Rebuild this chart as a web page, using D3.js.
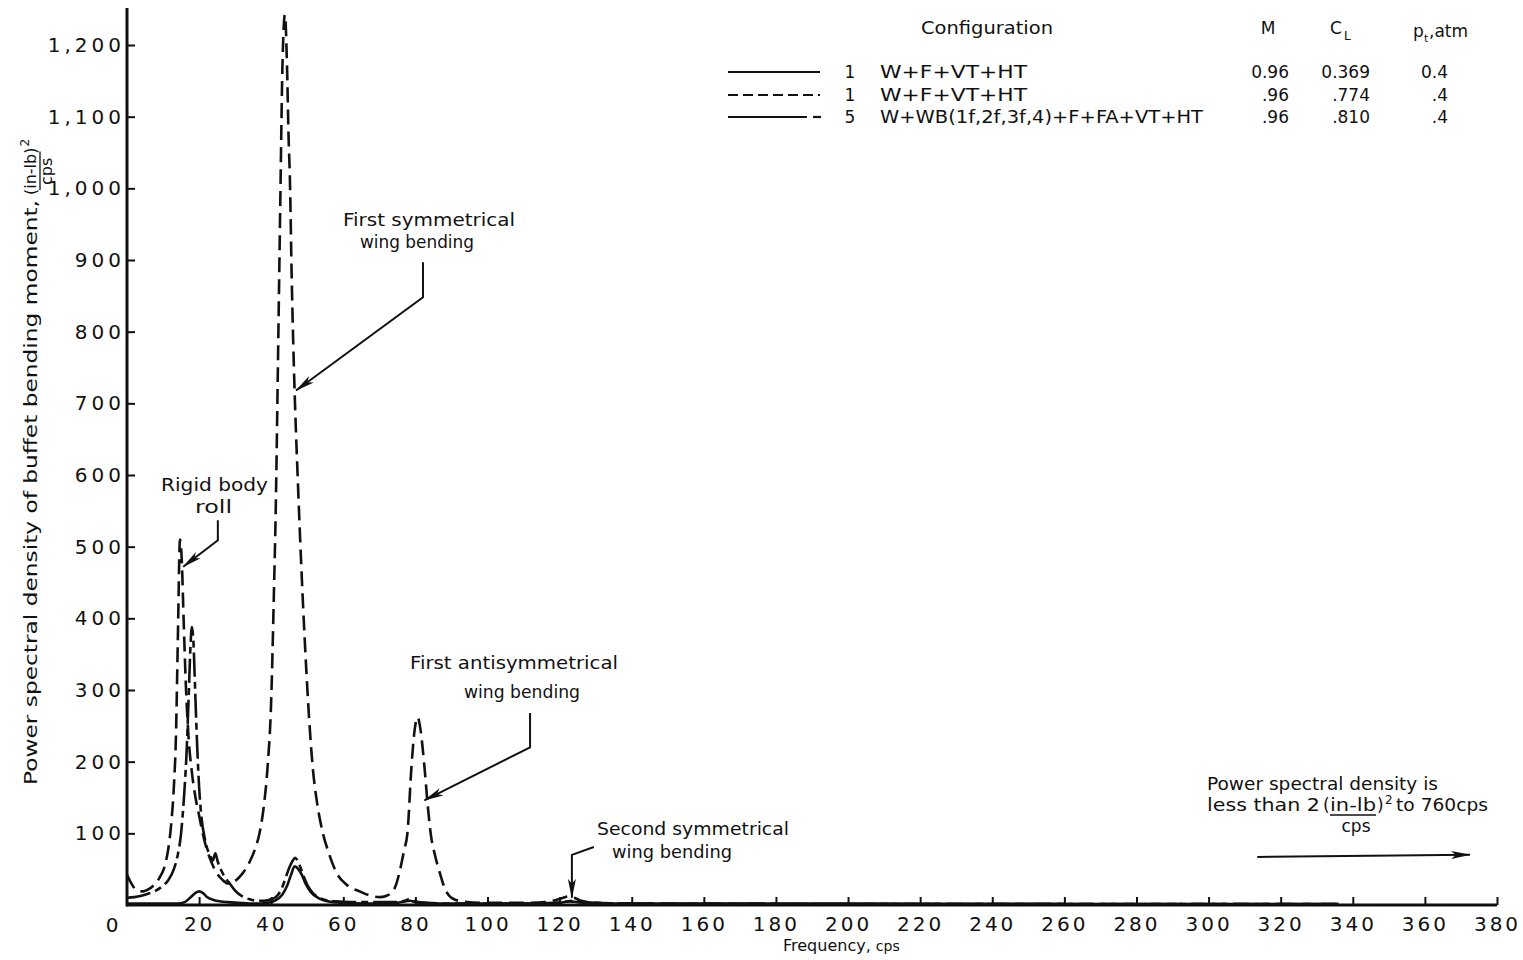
<!DOCTYPE html>
<html>
<head>
<meta charset="utf-8">
<script src="https://cdn.jsdelivr.net/npm/d3@7"></script>
<style>
  body { margin: 0; background: #fff; }
  svg text { font-family: "DejaVu Sans", "Liberation Sans", sans-serif; fill: #111; }
</style>
</head>
<body>
<svg id="chart" width="1523" height="960"></svg>
<script>
// ---- Axis ticks ----
const xTicks = [20, 40, 60, 80, 100, 120, 140, 160, 180, 200, 220, 240, 260, 280, 300, 320, 340, 360, 380];
const yTicks = [100, 200, 300, 400, 500, 600, 700, 800, 900, 1000, 1100, 1200];
const yTickLabels = ["100", "200", "300", "400", "500", "600", "700", "800", "900", "1,000", "1,100", "1,200"];

// ---- Series 1: config 1, M 0.96, CL 0.369 (solid) ----
const freq1 = [0, 5, 10, 14, 16, 17.5, 19, 20, 21, 22, 24, 26, 28, 31, 34, 37, 39, 41, 43, 44.5,
  45.5, 46.5, 47.5, 48.5, 49.5, 51, 53, 56, 60, 66, 72, 75, 77, 78.5, 80, 82, 86, 95, 110, 117,
  120, 122.5, 125, 128, 135, 160, 200, 260, 300, 336];
const psd1 = [2, 2, 2, 2, 4, 10, 17, 19, 17, 12, 7, 5, 4, 3, 2, 2, 3, 6, 14, 28,
  42, 54, 50, 42, 30, 18, 10, 5, 3, 2, 2, 3, 5, 6, 4, 3, 2, 2, 2, 2,
  3, 5, 4, 3, 2, 2, 2, 1.5, 1.5, 1.5];

// ---- Series 2: config 1, M .96, CL .774 (dashed) ----
const freq2 = [0, 1, 2, 3, 4.5, 6, 7.5, 9, 10.5, 11.5, 12.3, 13, 13.6, 14.1, 14.7, 15.2, 15.7, 16.3, 17, 18,
  19, 20, 21, 22, 23, 24, 25, 26.5, 28, 29.5, 31, 32.5, 34, 35.5, 36.8, 38, 39, 40, 40.7, 41.3,
  41.8, 42.2, 42.6, 43.1, 43.8, 44.4, 44.8, 45.2, 45.7, 46.4, 47.4, 48.3, 49.3, 50.2, 51.5, 52.8, 54.3, 56, 58, 61,
  64.5, 67.5, 70, 72, 74, 75.6, 76.8, 77.8, 78.9, 79.8, 80.6, 81.4, 82.5, 83.4, 84.2, 85.4, 86.7, 88, 90, 93,
  100, 110, 116, 119, 121, 122.5, 124, 126, 130, 140, 180, 240, 300, 336];
const psd2 = [42, 32, 24, 20, 19, 22, 28, 38, 55, 80, 115, 165, 240, 370, 510, 480, 400, 310, 240, 185,
  150, 125, 100, 80, 65, 53, 44, 35, 30, 32, 38, 47, 60, 78, 101, 140, 193, 286, 425, 564,
  732, 871, 1010, 1167, 1242, 1167, 1075, 1010, 871, 732, 590, 478, 370, 286, 193, 140, 101, 72, 46, 28,
  19, 13, 11, 13, 21, 46, 75, 101, 193, 245, 262, 245, 193, 140, 101, 70, 46, 25, 10, 5,
  3, 3, 4, 7, 10, 12, 10, 6, 3, 2, 1.5, 1.5, 1.5, 1.5];

// ---- Series 3: config 5, M .96, CL .810 (long and short dash) ----
const freq3 = [0, 2, 4, 6, 8, 10, 11.5, 13, 14, 15, 15.8, 16.5, 17.1, 17.6, 18, 18.4, 18.9, 19.4, 20, 20.7,
  21.5, 22.3, 23, 23.8, 24.5, 25.2, 26, 27, 28.5, 30, 32, 34, 36, 38, 40, 41.5, 43, 44, 45, 46,
  46.6, 47.2, 48, 49, 50, 51.5, 53, 55, 58, 62, 68, 74, 77, 78.5, 80, 83, 90, 100, 112, 118,
  121, 123.5, 126, 130, 140, 180, 240, 300, 336];
const psd3 = [10, 11, 13, 16, 20, 27, 35, 50, 68, 100, 150, 210, 290, 360, 388, 370, 300, 230, 165, 120,
  95, 78, 70, 62, 72, 60, 50, 40, 30, 20, 12, 8, 6, 6, 8, 12, 24, 38, 52, 62,
  66, 63, 54, 40, 28, 17, 11, 7, 5, 4, 4, 4, 6, 8, 5, 3, 2, 2, 2, 3,
  4, 6, 4, 3, 2, 1.5, 1.5, 1.5, 1.5];

// ---- Legend table ----
const legendNumbers = ["1", "1", "5"];
const legendConfigs = ["W+F+VT+HT", "W+F+VT+HT", "W+WB(1f,2f,3f,4)+F+FA+VT+HT"];
const legendM = ["0.96", ".96", ".96"];
const legendCL = ["0.369", ".774", ".810"];
const legendPt = ["0.4", ".4", ".4"];

// ---- Mode annotations: label lines and leader path in data units ----
const annoRigid = { lines: ["Rigid body", "roll"], path: [[25.2, 537], [25.2, 509], [15.6, 472]] };
const annoFirstSym = { lines: ["First symmetrical", "wing bending"], path: [[82.1, 897], [82.1, 848], [46.9, 718]] };
const annoFirstAnti = { lines: ["First antisymmetrical", "wing bending"], path: [[111.8, 268], [111.8, 220], [82.5, 146]] };
const annoSecondSym = { lines: ["Second symmetrical", "wing bending"], path: [[129.5, 81], [123.4, 70], [123.4, 10]] };
const arrowSpan = [[313.5, 67], [372.5, 70]];

const svg = d3.select("#chart");
const margin = { left: 127, top: 8, right: 1497, bottom: 905 };

const x = d3.scaleLinear().domain([0, 380]).range([margin.left, margin.right]);
const y = d3.scaleLinear().domain([0, 1200]).range([margin.bottom, 45]);

const defs = svg.append("defs");
defs.append("marker")
  .attr("id", "head")
  .attr("viewBox", "0 0 20 10")
  .attr("refX", 19).attr("refY", 5)
  .attr("markerWidth", 20).attr("markerHeight", 10)
  .attr("markerUnits", "userSpaceOnUse")
  .attr("orient", "auto")
  .append("path")
  .attr("d", "M0,1 L20,5 L0,9 L5,5 Z")
  .attr("fill", "#111");

// ---- Axes ----
const xAxis = d3.axisBottom(x).tickValues(xTicks).tickSizeInner(-8).tickSizeOuter(0).tickPadding(12);
const gx = svg.append("g").attr("transform", `translate(0,${margin.bottom})`).call(xAxis);
gx.select(".domain").remove();
gx.selectAll(".tick line").attr("stroke", "#111").attr("stroke-width", 2);
gx.selectAll(".tick text")
  .attr("font-size", 20).attr("letter-spacing", 3).attr("fill", "#111")
  .attr("font-family", "DejaVu Sans");

const yAxis = d3.axisLeft(y).tickValues(yTicks).tickFormat((d, i) => yTickLabels[i])
  .tickSizeInner(-8).tickSizeOuter(0).tickPadding(2);
const gy = svg.append("g").attr("transform", `translate(${margin.left},0)`).call(yAxis);
gy.select(".domain").remove();
gy.selectAll(".tick line").attr("stroke", "#111").attr("stroke-width", 2);
gy.selectAll(".tick text")
  .attr("font-size", 20).attr("letter-spacing", 4).attr("fill", "#111")
  .attr("font-family", "DejaVu Sans");

// origin label
svg.append("text").attr("x", 112).attr("y", 932).attr("text-anchor", "middle")
  .attr("font-size", 20).text("0");

// axis lines
svg.append("line").attr("x1", margin.left).attr("x2", margin.left)
  .attr("y1", margin.top).attr("y2", margin.bottom + 1.5)
  .attr("stroke", "#111").attr("stroke-width", 3);
svg.append("line").attr("x1", margin.left).attr("x2", margin.right)
  .attr("y1", margin.bottom).attr("y2", margin.bottom)
  .attr("stroke", "#111").attr("stroke-width", 3);

// axis titles
const xTitle = svg.append("text").attr("x", 783).attr("y", 951).attr("font-size", 16);
xTitle.append("tspan").text("Frequency, ");
xTitle.append("tspan").attr("font-size", 14).text("cps");

const yTitle = svg.append("g").attr("transform", "translate(37,785) rotate(-90)");
yTitle.append("text").attr("x", 0).attr("y", 0)
  .attr("font-size", 18).attr("textLength", 585).attr("lengthAdjust", "spacingAndGlyphs")
  .text("Power spectral density of buffet bending moment,");
const fx = 590;
const num = yTitle.append("text").attr("x", fx).attr("y", -1).attr("font-size", 16).text("(in-lb)");
const numW = num.node().getComputedTextLength();
yTitle.append("text").attr("x", fx + numW + 1).attr("y", -8).attr("font-size", 12).text("2");
yTitle.append("line").attr("x1", fx + 5).attr("x2", fx + numW - 4)
  .attr("y1", 3).attr("y2", 3).attr("stroke", "#111").attr("stroke-width", 1.3);
yTitle.append("text").attr("x", fx + numW / 2).attr("y", 15).attr("text-anchor", "middle")
  .attr("font-size", 16).text("cps");

// ---- Curves ----
const line = d3.line()
  .x(d => x(d[0]))
  .y(d => y(d[1]))
  .curve(d3.curveMonotoneX);

const series = [
  { f: freq1, v: psd1, dash: null },
  { f: freq2, v: psd2, dash: "15,7" },
  { f: freq3, v: psd3, dash: "24,5,7,5" }
];

series.forEach(s => {
  const pts = s.f.map((f, i) => [f, s.v[i]]);
  svg.append("path")
    .datum(pts)
    .attr("d", line)
    .attr("fill", "none")
    .attr("stroke", "#111")
    .attr("stroke-width", 2.6)
    .attr("stroke-linejoin", "round")
    .attr("stroke-dasharray", s.dash);
});

// ---- Annotations ----
function leader(anno) {
  svg.append("path")
    .attr("d", d3.line()(anno.path.map(p => [x(p[0]), y(p[1])])))
    .attr("fill", "none").attr("stroke", "#111").attr("stroke-width", 2)
    .attr("marker-end", "url(#head)");
}
// each entry: [x, baseline y, width]
function label(lines, boxes) {
  lines.forEach((t, i) => {
    svg.append("text").attr("x", boxes[i][0]).attr("y", boxes[i][1])
      .attr("font-size", 17).attr("textLength", boxes[i][2]).attr("lengthAdjust", "spacingAndGlyphs")
      .text(t);
  });
}

label(annoRigid.lines, [[161, 491, 107], [195, 513, 37]]);
leader(annoRigid);
label(annoFirstSym.lines, [[343, 226, 172], [360, 248, 114]]);
leader(annoFirstSym);
label(annoFirstAnti.lines, [[410, 669, 208], [464, 698, 116]]);
leader(annoFirstAnti);
label(annoSecondSym.lines, [[597, 835, 192], [612, 858, 120]]);
leader(annoSecondSym);

// note about the remaining band
svg.append("text").attr("x", 1207).attr("y", 790).attr("font-size", 17)
  .attr("textLength", 231).attr("lengthAdjust", "spacingAndGlyphs")
  .text("Power spectral density is");
{
  const base = 811;
  svg.append("text").attr("x", 1207).attr("y", base).attr("font-size", 17)
    .attr("textLength", 113).attr("lengthAdjust", "spacingAndGlyphs").text("less than 2");
  svg.append("text").attr("x", 1323).attr("y", base).attr("font-size", 17).text("(");
  svg.append("text").attr("x", 1330).attr("y", base).attr("font-size", 17)
    .attr("textLength", 46).attr("lengthAdjust", "spacingAndGlyphs").text("in-lb");
  svg.append("line").attr("x1", 1330).attr("x2", 1376).attr("y1", base + 4).attr("y2", base + 4)
    .attr("stroke", "#111").attr("stroke-width", 1.3);
  svg.append("text").attr("x", 1356).attr("y", base + 21).attr("text-anchor", "middle")
    .attr("font-size", 17).text("cps");
  svg.append("text").attr("x", 1377).attr("y", base).attr("font-size", 17).text(")");
  svg.append("text").attr("x", 1385).attr("y", base - 7).attr("font-size", 12).text("2");
  svg.append("text").attr("x", 1396).attr("y", base).attr("font-size", 17)
    .attr("textLength", 92).attr("lengthAdjust", "spacingAndGlyphs").text("to 760cps");
}
svg.append("path")
  .attr("d", d3.line()(arrowSpan.map(p => [x(p[0]), y(p[1])])))
  .attr("fill", "none").attr("stroke", "#111").attr("stroke-width", 2)
  .attr("marker-end", "url(#head)");

// ---- Legend ----
const legend = svg.append("g");
legend.append("text").attr("x", 921).attr("y", 34).attr("font-size", 17)
  .attr("textLength", 132).attr("lengthAdjust", "spacingAndGlyphs").text("Configuration");
legend.append("text").attr("x", 1268).attr("y", 34).attr("text-anchor", "middle").attr("font-size", 17).text("M");
legend.append("text").attr("x", 1330).attr("y", 34).attr("font-size", 17).text("C");
legend.append("text").attr("x", 1344).attr("y", 40).attr("font-size", 12).text("L");
legend.append("text").attr("x", 1413).attr("y", 37).attr("font-size", 17).text("p");
legend.append("text").attr("x", 1424).attr("y", 42).attr("font-size", 11).text("t");
legend.append("text").attr("x", 1429).attr("y", 37).attr("font-size", 17).text(",atm");

const rowY = [72, 95, 117];
const configWidths = [147, 147, 323];
const sampleStyles = [
  [{ a: 728, b: 820, dash: null }],
  [{ a: 728, b: 820, dash: "10,5" }],
  [{ a: 728, b: 807, dash: null }, { a: 813, b: 821, dash: null }]
];
rowY.forEach((ry, i) => {
  sampleStyles[i].forEach(seg => {
    legend.append("line").attr("x1", seg.a).attr("x2", seg.b).attr("y1", ry).attr("y2", ry)
      .attr("stroke", "#111").attr("stroke-width", 2.2).attr("stroke-dasharray", seg.dash);
  });
  legend.append("text").attr("x", 850).attr("y", ry + 6).attr("text-anchor", "middle")
    .attr("font-size", 17).text(legendNumbers[i]);
  legend.append("text").attr("x", 880).attr("y", ry + 6).attr("font-size", 17)
    .attr("textLength", configWidths[i]).attr("lengthAdjust", "spacingAndGlyphs")
    .text(legendConfigs[i]);
  legend.append("text").attr("x", 1289).attr("y", ry + 6).attr("text-anchor", "end")
    .attr("font-size", 17).text(legendM[i]);
  legend.append("text").attr("x", 1370).attr("y", ry + 6).attr("text-anchor", "end")
    .attr("font-size", 17).text(legendCL[i]);
  legend.append("text").attr("x", 1448).attr("y", ry + 6).attr("text-anchor", "end")
    .attr("font-size", 17).text(legendPt[i]);
});
</script>
</body>
</html>
